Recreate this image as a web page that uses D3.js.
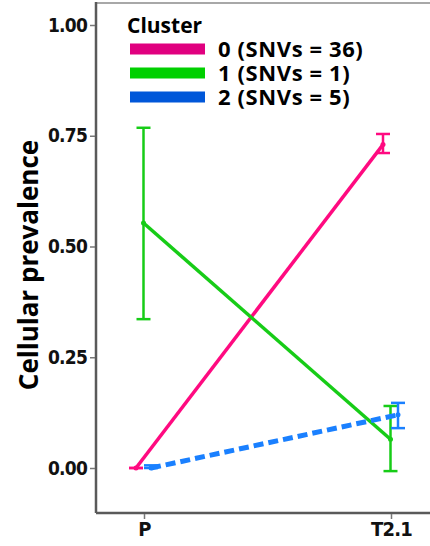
<!DOCTYPE html>
<html>
<head>
<meta charset="utf-8">
<script src="https://cdn.jsdelivr.net/npm/d3@7"></script>
<style>
  body { margin: 0; background: #fff; }
  svg { display: block; }
</style>
</head>
<body>
<div id="chart"></div>
<script>
// data
const samples = ['P', 'T2.1'];
const clusters = ['0 (SNVs = 36)', '1 (SNVs = 1)', '2 (SNVs = 5)'];
const prevalence = [[0, 0.73], [0.553, 0.065], [0, 0.12]];
const lower = [[0, 0.711], [0.336, -0.007], [0, 0.09]];
const upper = [[0, 0.754], [0.768, 0.14], [0.006, 0.147]];
const yTicks = [0, 0.25, 0.5, 0.75, 1];

const lineColors = ['#ff0a80', '#17cc17', '#1a80ff'];
const legendColors = ['#e0007f', '#00d000', '#0057d9'];

const W = 430, H = 546;
const frame = { left: 96, top: 3, right: 432, bottom: 513 };

const svg = d3.select('#chart').append('svg')
    .attr('width', W)
    .attr('height', H);

const x = d3.scalePoint().domain(samples).range([144, 391]);
const y = d3.scaleLinear().domain([0, 1]).range([468, 25]);
// small dodge between clusters
const dodge = d3.scaleLinear().domain([0, 2]).range([-8, 7]);

const tickFont = '"Liberation Sans Narrow", "DejaVu Sans Condensed", sans-serif';

// frame
svg.append('line')
    .attr('x1', frame.left).attr('x2', frame.right)
    .attr('y1', frame.top).attr('y2', frame.top)
    .attr('stroke', '#a8a8a8').attr('stroke-width', 2);
svg.append('line')
    .attr('x1', frame.left).attr('x2', frame.left)
    .attr('y1', frame.top - 1).attr('y2', frame.bottom)
    .attr('stroke', '#5a5a5a').attr('stroke-width', 2.5);
svg.append('line')
    .attr('x1', frame.left).attr('x2', frame.right)
    .attr('y1', frame.bottom).attr('y2', frame.bottom)
    .attr('stroke', '#5a5a5a').attr('stroke-width', 2.5);

// y axis
const yAxis = svg.append('g')
    .attr('transform', `translate(${frame.left - 1},0)`)
    .call(d3.axisLeft(y).tickValues(yTicks).tickFormat(d3.format('.2f')).tickSize(5).tickPadding(3));
yAxis.select('.domain').remove();
yAxis.selectAll('.tick line').attr('stroke', '#777').attr('stroke-width', 1.5);
yAxis.selectAll('.tick text')
    .attr('font-family', tickFont)
    .attr('font-weight', 'bold')
    .attr('font-size', 19)
    .attr('fill', '#111')
    .attr('letter-spacing', -0.8);

// x axis
const xAxis = svg.append('g')
    .attr('transform', `translate(0,${frame.bottom + 1})`)
    .call(d3.axisBottom(x).tickSize(5).tickPadding(3));
xAxis.select('.domain').remove();
xAxis.selectAll('.tick line').attr('stroke', '#777').attr('stroke-width', 1.5);
xAxis.selectAll('.tick text')
    .attr('font-family', tickFont)
    .attr('font-weight', 'bold')
    .attr('font-size', 20)
    .attr('fill', '#111')
    .attr('letter-spacing', -0.8);

// axis title
svg.append('text')
    .attr('transform', 'translate(38,265) rotate(-90)')
    .attr('text-anchor', 'middle')
    .attr('font-family', '"Open Sans", sans-serif')
    .attr('font-weight', 'bold')
    .attr('font-size', 26)
    .attr('fill', '#000')
    .text('Cellular prevalence');

// lines + error bars
const line = d3.line()
    .x(d => x(d.sample) + dodge(d.k))
    .y(d => y(d.v));

clusters.forEach((c, k) => {
    const pts = samples.map((s, i) => ({
        sample: s, k,
        v: prevalence[k][i], lo: lower[k][i], hi: upper[k][i]
    }));
    const g = svg.append('g');
    const cap = 7;
    pts.forEach(d => {
        const cx = x(d.sample) + dodge(k);
        g.append('line')
            .attr('x1', cx).attr('x2', cx)
            .attr('y1', y(d.lo)).attr('y2', y(d.hi))
            .attr('stroke', lineColors[k]).attr('stroke-width', 2.5);
        [d.lo, d.hi].forEach(v => g.append('line')
            .attr('x1', cx - cap).attr('x2', cx + cap)
            .attr('y1', y(v)).attr('y2', y(v))
            .attr('stroke', lineColors[k]).attr('stroke-width', 2.5));
    });
    g.append('path')
        .datum(pts)
        .attr('fill', 'none')
        .attr('stroke', lineColors[k])
        .attr('stroke-width', k === 2 ? 5 : 3.5)
        .attr('stroke-dasharray', k === 2 ? '10,5' : null)
        .attr('d', line);
    g.selectAll('circle')
        .data(pts)
        .join('circle')
        .attr('cx', d => x(d.sample) + dodge(k))
        .attr('cy', d => y(d.v))
        .attr('r', 2.5)
        .attr('fill', lineColors[k]);
});

// legend
const legend = svg.append('g').attr('transform', 'translate(127,0)');
legend.append('text')
    .attr('x', 0).attr('y', 33)
    .attr('font-family', '"Open Sans", sans-serif')
    .attr('font-weight', 'bold')
    .attr('font-size', 21)
    .attr('fill', '#000')
    .text('Cluster');
const legY = d3.scalePoint().domain(clusters).range([49, 97]);
clusters.forEach((c, k) => {
    legend.append('line')
        .attr('x1', 3).attr('x2', 78)
        .attr('y1', legY(c)).attr('y2', legY(c))
        .attr('stroke', legendColors[k])
        .attr('stroke-width', 11);
    legend.append('text')
        .attr('x', 91).attr('y', legY(c) + 8)
        .attr('font-family', '"Open Sans", sans-serif')
        .attr('font-weight', 'bold')
        .attr('font-size', 22)
        .attr('fill', '#000')
        .attr('letter-spacing', 0.6)
        .text(c);
});
</script>
</body>
</html>
